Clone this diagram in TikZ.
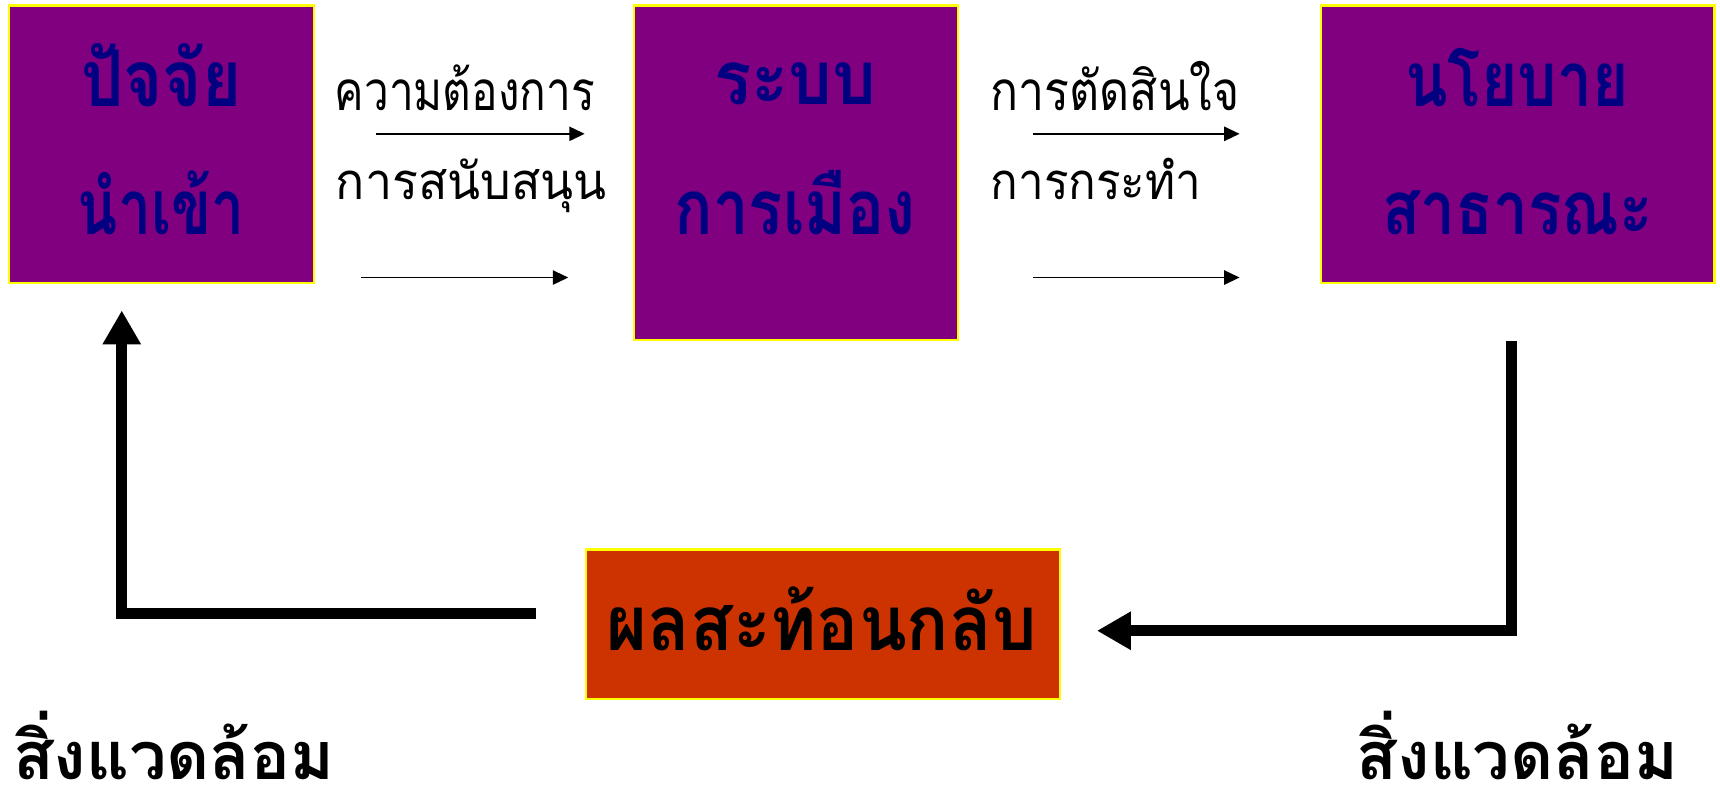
\documentclass[tikz,border=0pt]{standalone}
\usepackage{fontspec}
\usepackage{graphicx}
\newfontfamily\thai[Script=Thai]{Loma}
\usetikzlibrary{arrows.meta}
\definecolor{boxpurple}{HTML}{800080}
\definecolor{boxnavy}{HTML}{000080}
\definecolor{boxorange}{HTML}{CC3300}
\definecolor{boxyellow}{HTML}{FFFF00}
\newsavebox\thtextbox
\newsavebox\threfbox
\newcommand\thfit[3]{%
  \sbox\thtextbox{#3}%
  \sbox\threfbox{น}%
  \pgfmathsetmacro\thfx{#1/\the\wd\thtextbox}%
  \pgfmathsetmacro\thfy{#2/\the\ht\threfbox}%
  \scalebox{\thfx}[\thfy]{\usebox\thtextbox}}
\tikzset{
  panel/.style={draw=boxyellow, line width=2pt, fill=boxpurple},
  fbpanel/.style={draw=boxyellow, line width=2pt, fill=boxorange},
  boxtext/.style={inner sep=0pt, anchor=base, text=boxnavy, font=\thai\bfseries\fontsize{40}{48}\selectfont},
  blacktext/.style={inner sep=0pt, anchor=base, text=black, font=\thai\bfseries\fontsize{40}{48}\selectfont},
  lbltext/.style={inner sep=0pt, anchor=base west, text=black, font=\thai\fontsize{30}{36}\selectfont},
  thin/.style={line width=1.5pt, -{Triangle[length=14pt,width=13pt]}},
  thick/.style={line width=10pt, line join=miter, -{Triangle[length=31pt,width=33pt]}}
}
\begin{document}
\begin{tikzpicture}[x=1pt,y=-1pt]
\useasboundingbox (0,0) rectangle (1568,720);
% boxes
\path[panel] (8,5) rectangle (286,258);
\path[panel] (578,5) rectangle (873,310);
\path[panel] (1204,5) rectangle (1563,258);
\path[fbpanel] (534,501) rectangle (966,637);
% box texts
\node[boxtext] (t1a) at (147,97) {\thfit{146}{40}{ปัจจัย}};
\node[boxtext] (t1b) at (147,214) {\thfit{152}{39}{นำเข้า}};
\node[boxtext] (t2a) at (725,95) {\thfit{148}{38}{ระบบ}};
\node[boxtext] (t2b) at (725,214) {\thfit{220}{39}{การเมือง}};
\node[boxtext] (t3a) at (1383,97) {\thfit{204}{39}{นโยบาย}};
\node[boxtext] (t3b) at (1383.5,214) {\thfit{247}{38}{สาธารณะ}};
\node[blacktext] (t4) at (749,593) {\thfit{392}{39}{ผลสะท้อนกลับ}};
\node[blacktext] (envl) at (158.5,711) {\thfit{293}{34}{สิ่งแวดล้อม}};
\node[blacktext] (envr) at (1383.5,711) {\thfit{293}{34}{สิ่งแวดล้อม}};
% labels
\node[lbltext] (l1) at (305,101) {\thfit{237}{28}{ความต้องการ}};
\node[lbltext] (l2) at (306,182) {\thfit{247}{26}{การสนับสนุน}};
\node[lbltext] (l3) at (903,101) {\thfit{227}{28}{การตัดสินใจ}};
\node[lbltext] (l4) at (903,182) {\thfit{192}{26}{การกระทำ}};
% thin arrows
\coordinate (a1s) at (343,122); \coordinate (a1e) at (533,122);
\coordinate (a2s) at (329,253); \coordinate (a2e) at (518,253);
\coordinate (a3s) at (942,122); \coordinate (a3e) at (1130,122);
\coordinate (a4s) at (942,253); \coordinate (a4e) at (1130,253);
\draw[thin] (a1s) -- (a1e);
\draw[thin] (a2s) -- (a2e);
\draw[thin] (a3s) -- (a3e);
\draw[thin] (a4s) -- (a4e);
% thick feedback arrows
\coordinate (fl0) at (489,559.5); \coordinate (fl1) at (111,559.5); \coordinate (fl2) at (111,283);
\coordinate (fr0) at (1378,311); \coordinate (fr1) at (1378,575); \coordinate (fr2) at (1000,575);
\draw[thick] (fl0) -- (fl1) -- (fl2);
\draw[thick] (fr0) -- (fr1) -- (fr2);
\end{tikzpicture}
\end{document}
